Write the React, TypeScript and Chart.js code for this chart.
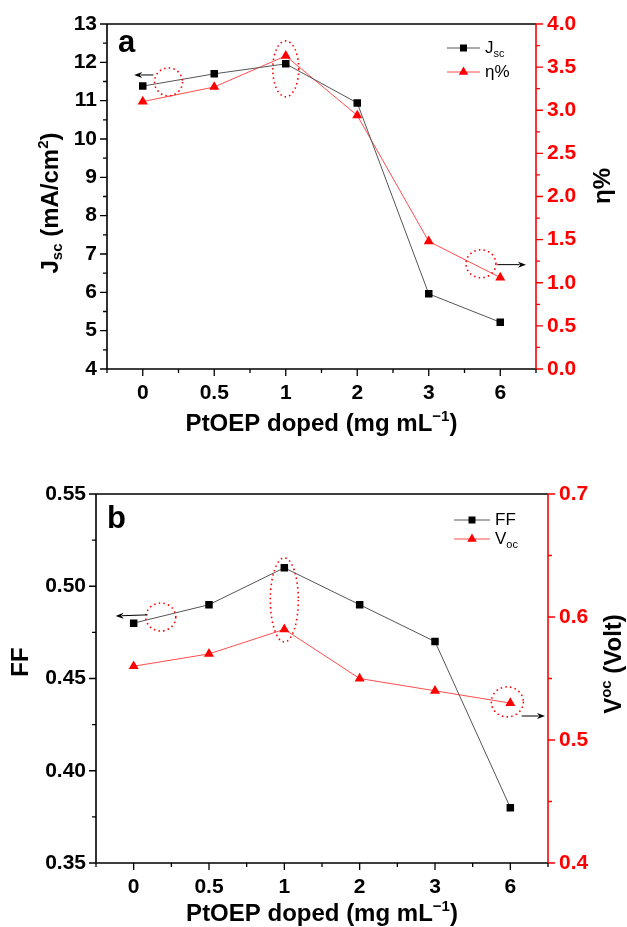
import React, { useEffect, useRef } from 'react';
import { Chart, registerables } from 'chart.js';

Chart.register(...registerables);

// ---------- data ----------
const categories = ['0', '0.5', '1', '2', '3', '6'];
const jscValues = [11.38, 11.7, 11.96, 10.94, 5.96, 5.22];
const etaValues = [3.1, 3.27, 3.63, 2.94, 1.48, 1.06];
const ffValues = [0.48, 0.49, 0.51, 0.49, 0.47, 0.38];
const vocValues = [0.56, 0.57, 0.59, 0.55, 0.54, 0.53];

const topLeftRange = { min: 4, max: 13, step: 1, minor: 0.5, digits: 0 };
const topRightRange = { min: 0, max: 4, step: 0.5, minor: 0.25, digits: 1 };
const botLeftRange = { min: 0.35, max: 0.55, step: 0.05, minor: 0.025, digits: 2 };
const botRightRange = { min: 0.4, max: 0.7, step: 0.1, minor: 0.05, digits: 1 };

// annotations in data space: [category index, value]
const topEllipses = [
  { idx: 0.36, val: 11.49, axis: 'y', rx: 14, ry: 14 },
  { idx: 2, val: 11.83, axis: 'y', rx: 13, ry: 28 },
  { idx: 4.73, val: 1.22, axis: 'y1', rx: 15, ry: 14 },
];
const topArrows = [
  { from: [0.15, 11.67], to: [-0.12, 11.67], axis: 'y' },
  { from: [4.96, 1.21], to: [5.36, 1.21], axis: 'y1' },
];
const botEllipses = [
  { idx: 0.36, val: 0.4833, axis: 'y', rx: 15, ry: 14 },
  { idx: 2, val: 0.4926, axis: 'y', rx: 14, ry: 42 },
  { idx: 4.96, val: 0.531, axis: 'y1', rx: 16, ry: 15 },
];
const botArrows = [
  { from: [0.185, 0.4845], to: [-0.24, 0.4839], axis: 'y' },
  { from: [5.15, 0.5195], to: [5.46, 0.5195], axis: 'y1' },
];

const FONT = '"Liberation Sans", Arial, Helvetica, sans-serif';
const RED = '#ff0000';

type Part = { t: string; sub?: boolean; sup?: boolean };

function drawRich(
  ctx: CanvasRenderingContext2D,
  parts: Part[],
  x: number,
  y: number,
  size: number,
  weight: string,
  color: string,
  rotate = 0,
  align: 'center' | 'left' = 'center'
) {
  ctx.save();
  ctx.translate(x, y);
  if (rotate) ctx.rotate(rotate);
  const small = Math.round(size * 0.62);
  const fontFor = (p: Part) => `${weight} ${p.sub || p.sup ? small : size}px ${FONT}`;
  let total = 0;
  const widths = parts.map((p) => {
    ctx.font = fontFor(p);
    const w = ctx.measureText(p.t).width;
    total += w;
    return w;
  });
  let cx = align === 'center' ? -total / 2 : 0;
  const base = size * 0.36;
  ctx.fillStyle = color;
  ctx.textBaseline = 'alphabetic';
  ctx.textAlign = 'left';
  parts.forEach((p, i) => {
    ctx.font = fontFor(p);
    let by = base;
    if (p.sub) by = base + size * 0.2;
    if (p.sup) by = base - size * 0.42;
    ctx.fillText(p.t, cx, by);
    cx += widths[i];
  });
  ctx.restore();
}

function drawTriangle(ctx: CanvasRenderingContext2D, x: number, y: number, r: number) {
  const h = r * 1.5;
  const half = r * 0.866;
  ctx.beginPath();
  ctx.moveTo(x, y - r);
  ctx.lineTo(x + half, y + h - r);
  ctx.lineTo(x - half, y + h - r);
  ctx.closePath();
  ctx.fill();
}

function makeDecorPlugin(opts: any) {
  return {
    id: 'decor' + opts.key,
    afterDraw(chart: any) {
      const { ctx, chartArea: a, scales } = chart;
      const xs = scales.x;
      const yl = scales.y;
      const yr = scales.y1;
      ctx.save();
      // frame
      ctx.lineWidth = 1.6;
      ctx.strokeStyle = '#000';
      ctx.beginPath();
      ctx.moveTo(a.left, a.top);
      ctx.lineTo(a.right, a.top);
      ctx.moveTo(a.left, a.bottom);
      ctx.lineTo(a.right, a.bottom);
      ctx.moveTo(a.left, a.top);
      ctx.lineTo(a.left, a.bottom);
      ctx.stroke();
      ctx.strokeStyle = RED;
      ctx.beginPath();
      ctx.moveTo(a.right, a.top);
      ctx.lineTo(a.right, a.bottom);
      ctx.stroke();

      ctx.lineWidth = 1.3;
      // left ticks
      const L = opts.left;
      ctx.strokeStyle = '#000';
      ctx.beginPath();
      const nL = Math.round((L.max - L.min) / L.minor);
      for (let i = 0; i <= nL; i++) {
        const v = L.min + i * L.minor;
        const py = yl.getPixelForValue(v);
        const len = i % 2 === 0 ? 7 : 4;
        ctx.moveTo(a.left, py);
        ctx.lineTo(a.left - len, py);
      }
      ctx.stroke();
      // right ticks
      const R = opts.right;
      ctx.strokeStyle = RED;
      ctx.beginPath();
      const nR = Math.round((R.max - R.min) / R.minor);
      for (let i = 0; i <= nR; i++) {
        const v = R.min + i * R.minor;
        const py = yr.getPixelForValue(v);
        const len = i % 2 === 0 ? 7 : 4;
        ctx.moveTo(a.right, py);
        ctx.lineTo(a.right + len, py);
      }
      ctx.stroke();
      // bottom ticks
      ctx.strokeStyle = '#000';
      ctx.beginPath();
      for (let k = -1; k < 2 * categories.length; k++) {
        const v = k / 2;
        const px = xs.getPixelForValue(v);
        const len = k % 2 === 0 ? 7 : 4;
        ctx.moveTo(px, a.bottom);
        ctx.lineTo(px, a.bottom + len);
      }
      ctx.stroke();

      // ellipses
      ctx.strokeStyle = RED;
      ctx.lineWidth = 1.6;
      ctx.setLineDash([1.5, 3.2]);
      opts.ellipses.forEach((e: any) => {
        const px = xs.getPixelForValue(e.idx);
        const py = scales[e.axis].getPixelForValue(e.val);
        ctx.beginPath();
        ctx.ellipse(px, py, e.rx, e.ry, 0, 0, Math.PI * 2);
        ctx.stroke();
      });
      ctx.setLineDash([]);

      // arrows
      ctx.strokeStyle = '#000';
      ctx.fillStyle = '#000';
      ctx.lineWidth = 1;
      opts.arrows.forEach((ar: any) => {
        const x0 = xs.getPixelForValue(ar.from[0]);
        const y0 = scales[ar.axis].getPixelForValue(ar.from[1]);
        const x1 = xs.getPixelForValue(ar.to[0]);
        const y1 = scales[ar.axis].getPixelForValue(ar.to[1]);
        const ang = Math.atan2(y1 - y0, x1 - x0);
        const hl = 8;
        const hw = 3;
        ctx.beginPath();
        ctx.moveTo(x0, y0);
        ctx.lineTo(x1 - Math.cos(ang) * hl * 0.8, y1 - Math.sin(ang) * hl * 0.8);
        ctx.stroke();
        ctx.beginPath();
        ctx.moveTo(x1, y1);
        ctx.lineTo(x1 - Math.cos(ang) * hl + Math.sin(ang) * hw, y1 - Math.sin(ang) * hl - Math.cos(ang) * hw);
        ctx.lineTo(x1 - Math.cos(ang) * hl * 0.7, y1 - Math.sin(ang) * hl * 0.7);
        ctx.lineTo(x1 - Math.cos(ang) * hl - Math.sin(ang) * hw, y1 - Math.sin(ang) * hl + Math.cos(ang) * hw);
        ctx.closePath();
        ctx.fill();
      });

      // panel letter
      ctx.fillStyle = '#000';
      ctx.font = `bold 31px ${FONT}`;
      ctx.textAlign = 'left';
      ctx.textBaseline = 'alphabetic';
      ctx.fillText(opts.letter, a.left + opts.letterDx, a.top + opts.letterDy);

      // legend
      opts.legend.forEach((item: any, i: number) => {
        const ly = a.top + opts.legendY[i];
        const lx0 = a.right - opts.legendX[0];
        const lx1 = a.right - opts.legendX[1];
        ctx.strokeStyle = item.line;
        ctx.lineWidth = 1;
        ctx.beginPath();
        ctx.moveTo(lx0, ly);
        ctx.lineTo(lx1, ly);
        ctx.stroke();
        const mx = (lx0 + lx1) / 2;
        ctx.fillStyle = item.marker;
        if (item.shape === 'rect') {
          ctx.fillRect(mx - 3.5, ly - 3.5, 7, 7);
        } else {
          drawTriangle(ctx, mx, ly, 5.5);
        }
        drawRich(ctx, item.parts, lx1 + 5, ly - 1, 17, 'normal', '#000', 0, 'left');
      });

      // axis titles
      drawRich(ctx, opts.xTitle, (a.left + a.right) / 2, opts.xTitleY, 24, 'bold', '#000');
      drawRich(ctx, opts.yTitle, opts.yTitleX, opts.yTitleY, 24, 'bold', '#000', -Math.PI / 2);
      drawRich(ctx, opts.y1Title, opts.y1TitleX, opts.y1TitleY, 24, 'bold', '#000', -Math.PI / 2);
      ctx.restore();
    },
  };
}

function makeConfig(p: any) {
  const tickFont = { family: FONT, size: 21, weight: 'bold' as const };
  const gridHidden = {
    display: true,
    drawOnChartArea: false,
    drawTicks: true,
    tickLength: 7,
    color: 'rgba(0,0,0,0)',
  };
  return {
    type: 'line' as const,
    data: {
      labels: categories,
      datasets: [
        {
          label: p.names[0],
          data: p.left,
          yAxisID: 'y',
          borderColor: '#555555',
          borderWidth: 1,
          backgroundColor: '#000000',
          pointStyle: 'rect',
          pointRadius: 5.3,
          pointBorderWidth: 0,
          pointBackgroundColor: '#000000',
          tension: 0,
        },
        {
          label: p.names[1],
          data: p.right,
          yAxisID: 'y1',
          borderColor: '#ff4d4d',
          borderWidth: 1,
          backgroundColor: RED,
          pointStyle: 'triangle',
          pointRadius: 5.8,
          pointBorderWidth: 0,
          pointBackgroundColor: RED,
          tension: 0,
        },
      ],
    },
    options: {
      responsive: false,
      animation: false as const,
      devicePixelRatio: 1,
      layout: { padding: { top: p.padTop, left: 0, right: 0, bottom: 0 } },
      plugins: { legend: { display: false }, tooltip: { enabled: false } },
      scales: {
        x: {
          type: 'category' as const,
          offset: true,
          grid: { ...gridHidden, offset: false },
          border: { display: false },
          ticks: { font: tickFont, color: '#000', padding: 5, maxRotation: 0, autoSkip: false },
          afterFit: (s: any) => {
            s.height = p.xHeight;
          },
        },
        y: {
          type: 'linear' as const,
          position: 'left' as const,
          min: p.lr.min,
          max: p.lr.max,
          grid: gridHidden,
          border: { display: false },
          ticks: {
            stepSize: p.lr.step,
            font: tickFont,
            color: '#000',
            padding: 3,
            callback: (v: any) => Number(v).toFixed(p.lr.digits),
          },
          afterFit: (s: any) => {
            s.width = p.leftWidth;
          },
        },
        y1: {
          type: 'linear' as const,
          position: 'right' as const,
          min: p.rr.min,
          max: p.rr.max,
          grid: gridHidden,
          border: { display: false },
          ticks: {
            stepSize: p.rr.step,
            font: tickFont,
            color: RED,
            padding: 4,
            callback: (v: any) => Number(v).toFixed(p.rr.digits),
          },
          afterFit: (s: any) => {
            s.width = p.rightWidth;
          },
        },
      },
    },
    plugins: [p.plugin],
  };
}

const xTitleParts: Part[] = [{ t: 'PtOEP doped (mg mL' }, { t: '\u22121', sup: true }, { t: ')' }];

export default function App() {
  const topRef = useRef<HTMLCanvasElement>(null);
  const botRef = useRef<HTMLCanvasElement>(null);

  useEffect(() => {
    const topPlugin = makeDecorPlugin({
      key: 'top',
      left: topLeftRange,
      right: topRightRange,
      ellipses: topEllipses,
      arrows: topArrows,
      letter: 'a',
      letterDx: 11,
      letterDy: 28,
      legend: [
        { parts: [{ t: 'J' }, { t: 'sc', sub: true }], line: '#555555', marker: '#000', shape: 'rect' },
        { parts: [{ t: '\u03b7%' }], line: '#ff4d4d', marker: RED, shape: 'tri' },
      ],
      legendX: [89, 56],
      legendY: [24, 48],
      xTitle: xTitleParts,
      xTitleY: 422,
      yTitle: [{ t: 'J' }, { t: 'sc', sub: true }, { t: ' (mA/cm' }, { t: '2', sup: true }, { t: ')' }],
      yTitleX: 49,
      yTitleY: 203,
      y1Title: [{ t: '\u03b7%' }],
      y1TitleX: 601,
      y1TitleY: 186,
    });
    const botPlugin = makeDecorPlugin({
      key: 'bot',
      left: botLeftRange,
      right: botRightRange,
      ellipses: botEllipses,
      arrows: botArrows,
      letter: 'b',
      letterDx: 11,
      letterDy: 34,
      legend: [
        { parts: [{ t: 'FF' }], line: '#555555', marker: '#000', shape: 'rect' },
        { parts: [{ t: 'V' }, { t: 'oc', sub: true }], line: '#ff4d4d', marker: RED, shape: 'tri' },
      ],
      legendX: [94, 58],
      legendY: [26, 45],
      xTitle: xTitleParts,
      xTitleY: 452,
      yTitle: [{ t: 'FF' }],
      yTitleX: 19,
      yTitleY: 202,
      y1Title: [{ t: 'V' }, { t: 'oc', sup: true }, { t: ' (Volt)' }],
      y1TitleX: 612,
      y1TitleY: 204,
    });

    const c1 = new Chart(
      topRef.current as HTMLCanvasElement,
      makeConfig({
        names: ['Jsc', '\u03b7%'],
        left: jscValues,
        right: etaValues,
        lr: topLeftRange,
        rr: topRightRange,
        padTop: 24,
        xHeight: 455 - 369,
        leftWidth: 107,
        rightWidth: 627 - 536,
        plugin: topPlugin,
      }) as any
    );
    const c2 = new Chart(
      botRef.current as HTMLCanvasElement,
      makeConfig({
        names: ['FF', 'Voc'],
        left: ffValues,
        right: vocValues,
        lr: botLeftRange,
        rr: botRightRange,
        padTop: 34,
        xHeight: 467 - 403,
        leftWidth: 96,
        rightWidth: 627 - 548,
        plugin: botPlugin,
      }) as any
    );
    return () => {
      c1.destroy();
      c2.destroy();
    };
  }, []);

  return (
    <div style={{ position: 'absolute', left: 0, top: 0, width: 627, height: 927, background: '#fff' }}>
      <canvas ref={topRef} width={627} height={455} style={{ position: 'absolute', left: 0, top: 0, display: 'block' }} />
      <canvas ref={botRef} width={627} height={467} style={{ position: 'absolute', left: 0, top: 460, display: 'block' }} />
    </div>
  );
}
